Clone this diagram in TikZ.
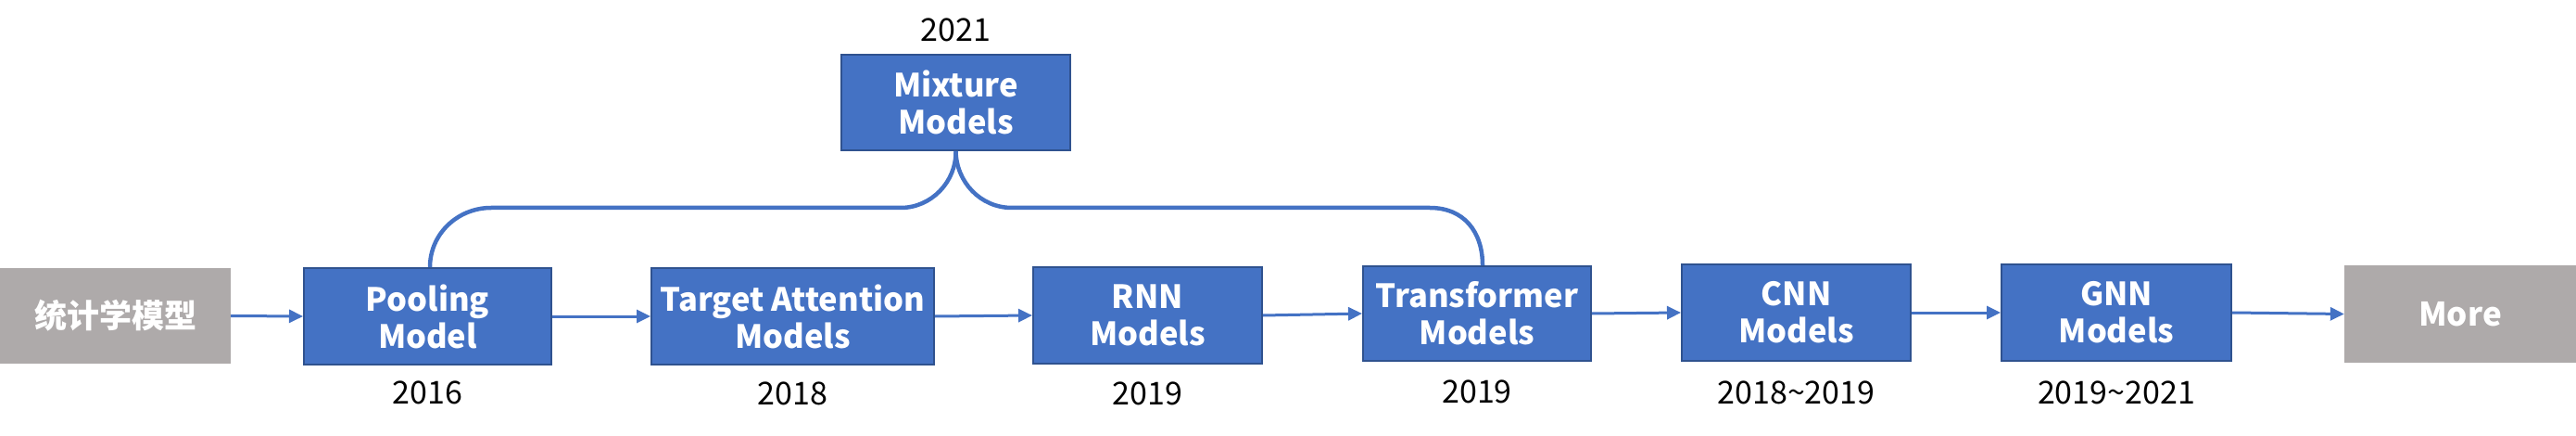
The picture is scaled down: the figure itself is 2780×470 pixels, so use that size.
\documentclass[tikz,border=0pt]{standalone}
\usepackage{fontspec}
\setmainfont{Noto Sans CJK SC}
\usetikzlibrary{arrows.meta}
\definecolor{boxblue}{HTML}{4472C4}
\definecolor{boxedge}{HTML}{2F528F}
\definecolor{boxgray}{HTML}{AEAAAA}
\tikzset{
  model/.style={draw=boxedge, line width=2pt, fill=boxblue, text=white, inner sep=0pt,
    align=center, font=\fontsize{34.5}{40}\selectfont\bfseries},
  grayblk/.style={fill=boxgray, text=white, inner sep=0pt, align=center,
    font=\fontsize{35}{40}\selectfont\bfseries},
  year/.style={inner sep=0pt, text=black, font=\fontsize{34}{36}\selectfont},
  flow/.style={draw=boxblue, line width=3pt, -{Triangle[length=15pt,width=14pt]}},
  link/.style={draw=boxblue, line width=4.5pt},
}
\begin{document}
\begin{tikzpicture}[x=1pt,y=-1pt]
\useasboundingbox (0,0) rectangle (2780,470);
% boxes
\node[grayblk, minimum width=249pt, minimum height=103pt] (stat) at (124.5,340.5) {统计学模型};
\node[model, minimum width=267pt, minimum height=104pt] (pool) at (461.5,341) {Pooling\\Model};
\node[model, minimum width=305pt, minimum height=104pt] (target) at (855.5,341) {Target Attention\\Models};
\node[model, minimum width=247pt, minimum height=104pt] (rnn) at (1238.5,340) {RNN\\Models};
\node[model, minimum width=246pt, minimum height=102pt] (trans) at (1594,338) {Transformer\\Models};
\node[model, minimum width=247pt, minimum height=104pt] (cnn) at (1938.5,337) {CNN\\Models};
\node[model, minimum width=248pt, minimum height=104pt] (gnn) at (2284,337) {GNN\\Models};
\node[grayblk, minimum width=250pt, minimum height=105pt] (more) at (2655,338.5) {More};
\node[model, minimum width=247pt, minimum height=103pt] (mix) at (1031.5,110.5) {Mixture\\Models};
% years
\node[year] (ypool) at (461.5,423) {2016};
\node[year] (ytarget) at (855.5,424) {2018};
\node[year] (yrnn) at (1238.5,424) {2019};
\node[year] (ytrans) at (1594,422) {2019};
\node[year] (ycnn) at (1938.5,423) {2018\textasciitilde 2019};
\node[year] (ygnn) at (2284,423) {2019\textasciitilde 2021};
\node[year] (ymix) at (1031.5,32) {2021};
% flow arrows
\draw[flow] (stat.east) -- (pool.west);
\draw[flow] (pool.east) -- (target.west);
\draw[flow] (target.east) -- (rnn.west);
\draw[flow] (rnn.east) -- (trans.west);
\draw[flow] (trans.east) -- (cnn.west);
\draw[flow] (cnn.east) -- (gnn.west);
\draw[flow] (gnn.east) -- (more.west);
% mixture links
\coordinate (pt) at ([xshift=2.5pt]pool.north);
\coordinate (tt) at ([xshift=6pt]trans.north);
\draw[link] (pt) .. controls ++(0,-36) and (494,224) .. (530,224)
  -- (972,224) .. controls (1005,224) and (1032,196) .. (mix.south);
\draw[link] (mix.south) .. controls (1032,196) and (1058,224) .. (1092,224)
  -- (1543,224) .. controls (1580,224) and (1600,250) .. (tt);
\end{tikzpicture}
\end{document}
